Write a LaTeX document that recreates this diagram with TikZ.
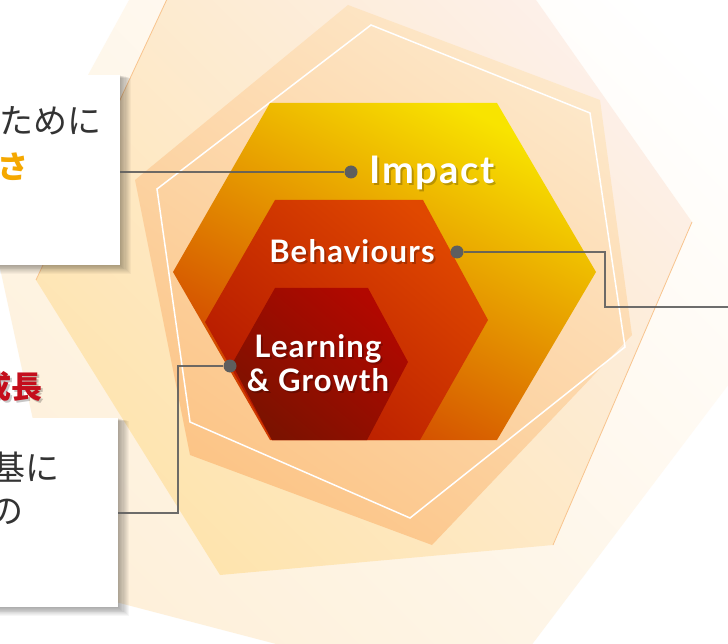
\documentclass[tikz,border=0pt]{standalone}
\usepackage{fontspec}
\newfontfamily\lato{Lato}
\newfontfamily\jp{Noto Sans CJK JP}
\usetikzlibrary{calc}
\definecolor{bigA}{HTML}{F8E400}
\definecolor{bigB}{HTML}{E6A000}
\definecolor{bigC}{HTML}{CF3A00}
\definecolor{midA}{HTML}{E04800}
\definecolor{midB}{HTML}{D02800}
\definecolor{midC}{HTML}{B41800}
\definecolor{innA}{HTML}{B20800}
\definecolor{innB}{HTML}{9E0A00}
\definecolor{innC}{HTML}{7C1200}
\definecolor{rLow}{HTML}{FEF0DA}
\definecolor{qLow}{HTML}{FEE4AE}
\definecolor{qHigh}{HTML}{FDF0EA}
\definecolor{qLine}{HTML}{F8C48E}
\definecolor{hLow}{HTML}{FCC486}
\definecolor{hHigh}{HTML}{FDE8CA}
\definecolor{linegray}{HTML}{5E5E5E}
\definecolor{jptext}{HTML}{333333}
\definecolor{jporange}{HTML}{F5A800}
\definecolor{jpred}{HTML}{C40E1C}
\tikzset{
  hexlbl/.style={text=white, inner sep=0},
  lblshadow/.style={text=black, text opacity=0.22, inner sep=0},
  dotnode/.style={circle, fill=linegray, minimum size=13pt, inner sep=0},
  conn/.style={draw=linegray, line width=2pt, draw opacity=0.9},
  paperbox/.style={fill=white, inner sep=0, anchor=north west, minimum width=140pt, minimum height=190pt},
  jpline/.style={inner sep=0, anchor=base east},
  bigfont/.style={font=\lato\bfseries\addfontfeatures{LetterSpace=5}\fontsize{38}{42}\selectfont},
  midfont/.style={font=\lato\bfseries\addfontfeatures{LetterSpace=4}\fontsize{31}{35}\selectfont},
  jpfont/.style={font=\jp\fontsize{34}{38}\selectfont},
  jpbold/.style={font=\jp\bfseries\fontsize{31}{36}\selectfont},
}
\begin{document}
\begin{tikzpicture}[x=1pt,y=-1pt]
\useasboundingbox (0,0) rectangle (728,644);
\clip (0,0) rectangle (728,644);
\fill[white] (0,0) rectangle (728,644);

% faint outer shape
\shade[top color=white, bottom color=rLow, shading angle=-45]
  (490,700) -- (70,590) -- (-5,245) -- (140,-20) -- (720,-80) -- (800,290) -- cycle;
% light yellow shape
\shade[top color=qHigh, bottom color=qLow, shading angle=-45]
  (36,280) -- (220,575) -- (553,545) -- (692,222) -- (503,-47) -- (175,-18) -- cycle;
\draw[qLine, line width=0.8pt] (36,280) -- (175,-18);
\draw[qLine, line width=0.8pt] (553,545) -- (692,222);
% peach shape
\shade[top color=hHigh, bottom color=hLow, shading angle=-35]
  (348,5) -- (600,100) -- (632,335) -- (432,545) -- (190,455) -- (135,180) -- cycle;
% white outline
\draw[white, line width=1.5pt, line join=miter]
  (371,25) -- (590,113) -- (625,347) -- (410,518) -- (190,422) -- (157,189) -- cycle;

% main hexagons
\shade[top color=bigA, middle color=bigB, bottom color=bigC, shading angle=-28]
  (270,103) -- (497,103) -- (596,272) -- (497,440) -- (270,440) -- (173,272) -- cycle;
\shade[top color=midA, middle color=midB, bottom color=midC, shading angle=-40]
  (275,200) -- (423,200) -- (488,320) -- (420,440) -- (272,440) -- (205,322) -- cycle;
\shade[top color=innA, middle color=innB, bottom color=innC, shading angle=-40]
  (275,288) -- (368,288) -- (408,362) -- (367,440) -- (272,440) -- (232,364) -- cycle;

% labels
\node[lblshadow, bigfont, anchor=west] at (371,175) {Impact};
\node[hexlbl, bigfont, anchor=west] (tImpact) at (369,173) {Impact};
\node[lblshadow, midfont, anchor=base] at (354,265) {Behaviours};
\node[hexlbl, midfont, anchor=base] (tBeh) at (352,263) {Behaviours};
\node[lblshadow, midfont, anchor=base] at (320,359) {Learning};
\node[hexlbl, midfont, anchor=base] (tLearn) at (318,357) {Learning};
\node[lblshadow, midfont, anchor=base] at (320,393) {\&~Growth};
\node[hexlbl, midfont, anchor=base] (tGrowth) at (318,391) {\&~Growth};

% boxes with soft shadows
\foreach \i in {1,...,10}{
  \fill[black, opacity=0.035] (-20,{75+0.3*\i}) rectangle ({120+1.1*\i},{265+0.9*\i});
  \fill[black, opacity=0.035] (-20,{418+0.3*\i}) rectangle ({118+1.1*\i},{607+0.9*\i});
}
\node[paperbox] (box1) at (-20,75) {};
\node[paperbox, minimum width=138pt, minimum height=189pt] (box2) at (-20,418) {};

% Japanese texts
\node[jpline, jpfont, text=jptext] (j1) at (102,134) {ために};
\node[jpline, jpbold, text=jporange] (j2) at (29,179) {さ};
\node[jpline, jpbold, text=black, text opacity=0.22] at (45,400) {成長};
\node[jpline, jpbold, text=jpred] (j3) at (43,398) {成長};
\node[jpline, jpfont, text=jptext] (j4) at (60,480) {基に};
\node[jpline, jpfont, text=jptext] (j5) at (24,523) {の};

% dots and connectors
\node[dotnode] (dI) at (351,172) {};
\node[dotnode] (dB) at (457,252) {};
\node[dotnode] (dL) at (230,366) {};
\coordinate (bEnd) at (728,307);
\draw[conn] (dI.west) -- (dI.west -| box1.east);
\draw[conn] (dB.east) -- (605,252) -- (605,307) -- (bEnd);
\draw[conn] (dL.west) -- (178,366) -- (178,513) -- (box2.east |- 0,513);
\end{tikzpicture}
\end{document}
